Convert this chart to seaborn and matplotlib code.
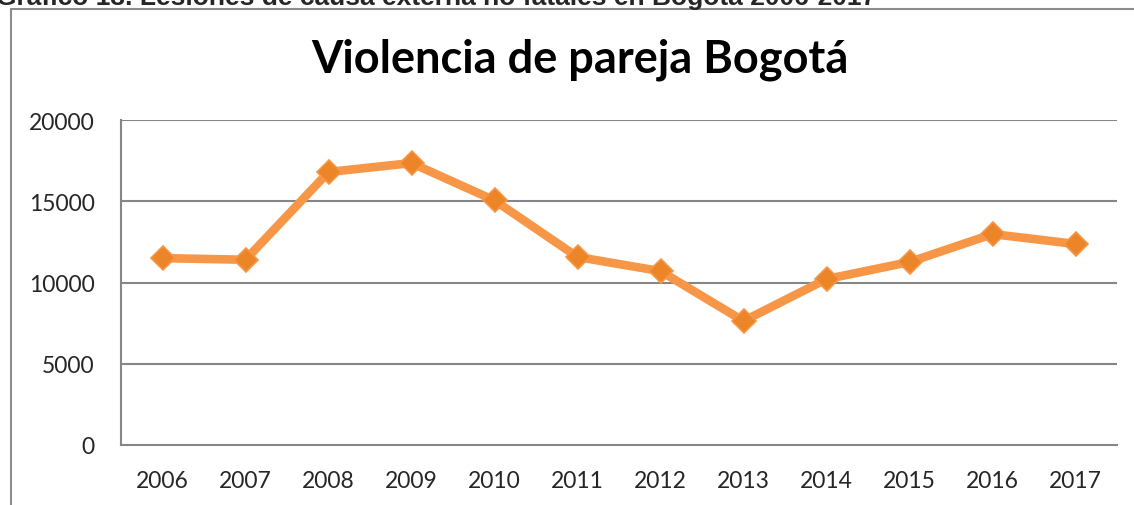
import matplotlib
matplotlib.use("Agg")
import matplotlib.pyplot as plt
import seaborn as sns
import pandas as pd
from matplotlib.lines import Line2D

# values
years = ["2006", "2007", "2008", "2009", "2010", "2011",
         "2012", "2013", "2014", "2015", "2016", "2017"]
casos = [11500, 11400, 16800, 17350, 15050, 11570,
         10700, 7630, 10210, 11260, 12980, 12370]
y_ticks = [0, 5000, 10000, 15000, 20000]

df = pd.DataFrame({"Año": years, "Casos": casos})
df["pos"] = range(len(df))

sns.set_style("white")
plt.rcParams["font.family"] = ["Lato", "DejaVu Sans"]

W, H = 1134, 506
fig = plt.figure(figsize=(W / 100, H / 100), dpi=100)
ax = fig.add_axes([121 / W, (H - 446) / H, (1117 - 121) / W, (446 - 121) / H])

grid_col = "#868686"
for v in y_ticks[1:]:
    ax.axhline(v, color=grid_col, lw=1.5, zorder=1)

sns.lineplot(data=df, x="pos", y="Casos", ax=ax, color="#F79646",
             linewidth=6.2, marker="D", markersize=12.5,
             markerfacecolor="#EC8428", markeredgecolor="#F79646",
             markeredgewidth=1.2, zorder=3)

ax.set_xlim(-0.5, len(years) - 0.5)
ax.set_ylim(0, 20000)
ax.set_yticks(y_ticks)
ax.set_yticklabels([str(v) for v in y_ticks], fontsize=16.5)
ax.set_xticks([i - 0.5 for i in range(len(years) + 1)])
ax.set_xticklabels([])
ax.set_xticks(df["pos"], minor=True)
ax.set_xticklabels(years, minor=True, fontsize=16.5)
ax.tick_params(axis="x", which="major", length=8, width=1.5, color=grid_col, direction="out")
ax.tick_params(axis="x", which="minor", length=0, pad=18)
ax.tick_params(axis="y", length=7, width=1.5, color=grid_col, direction="out", pad=12)
ax.set_xlabel("")
ax.set_ylabel("")
for s in ["top", "right"]:
    ax.spines[s].set_visible(False)
for s in ["left", "bottom"]:
    ax.spines[s].set_color(grid_col)
    ax.spines[s].set_linewidth(1.5)

# chart frame (partially cropped in the source image)
fig.add_artist(Line2D([11 / W, 11 / W], [0, 1 - 10 / H], color="#8c8c8c", lw=1.5))
fig.add_artist(Line2D([11 / W, 1], [1 - 10 / H, 1 - 10 / H], color="#8c8c8c", lw=1.5))

fig.text(580 / W, 1 - 60 / H, "Violencia de pareja Bogotá", ha="center", va="center",
         fontsize=32.5, fontweight="bold", color="black")

# caption of the document, cut off at the top edge
fig.text(-4 / W, 1 - 5 / H,
         "Gráfico 13. Lesiones de causa externa no fatales en Bogotá 2006-2017",
         ha="left", va="baseline", fontsize=19, fontweight="bold",
         family=["Liberation Sans", "DejaVu Sans"])

fig.savefig("out.png", dpi=100)
